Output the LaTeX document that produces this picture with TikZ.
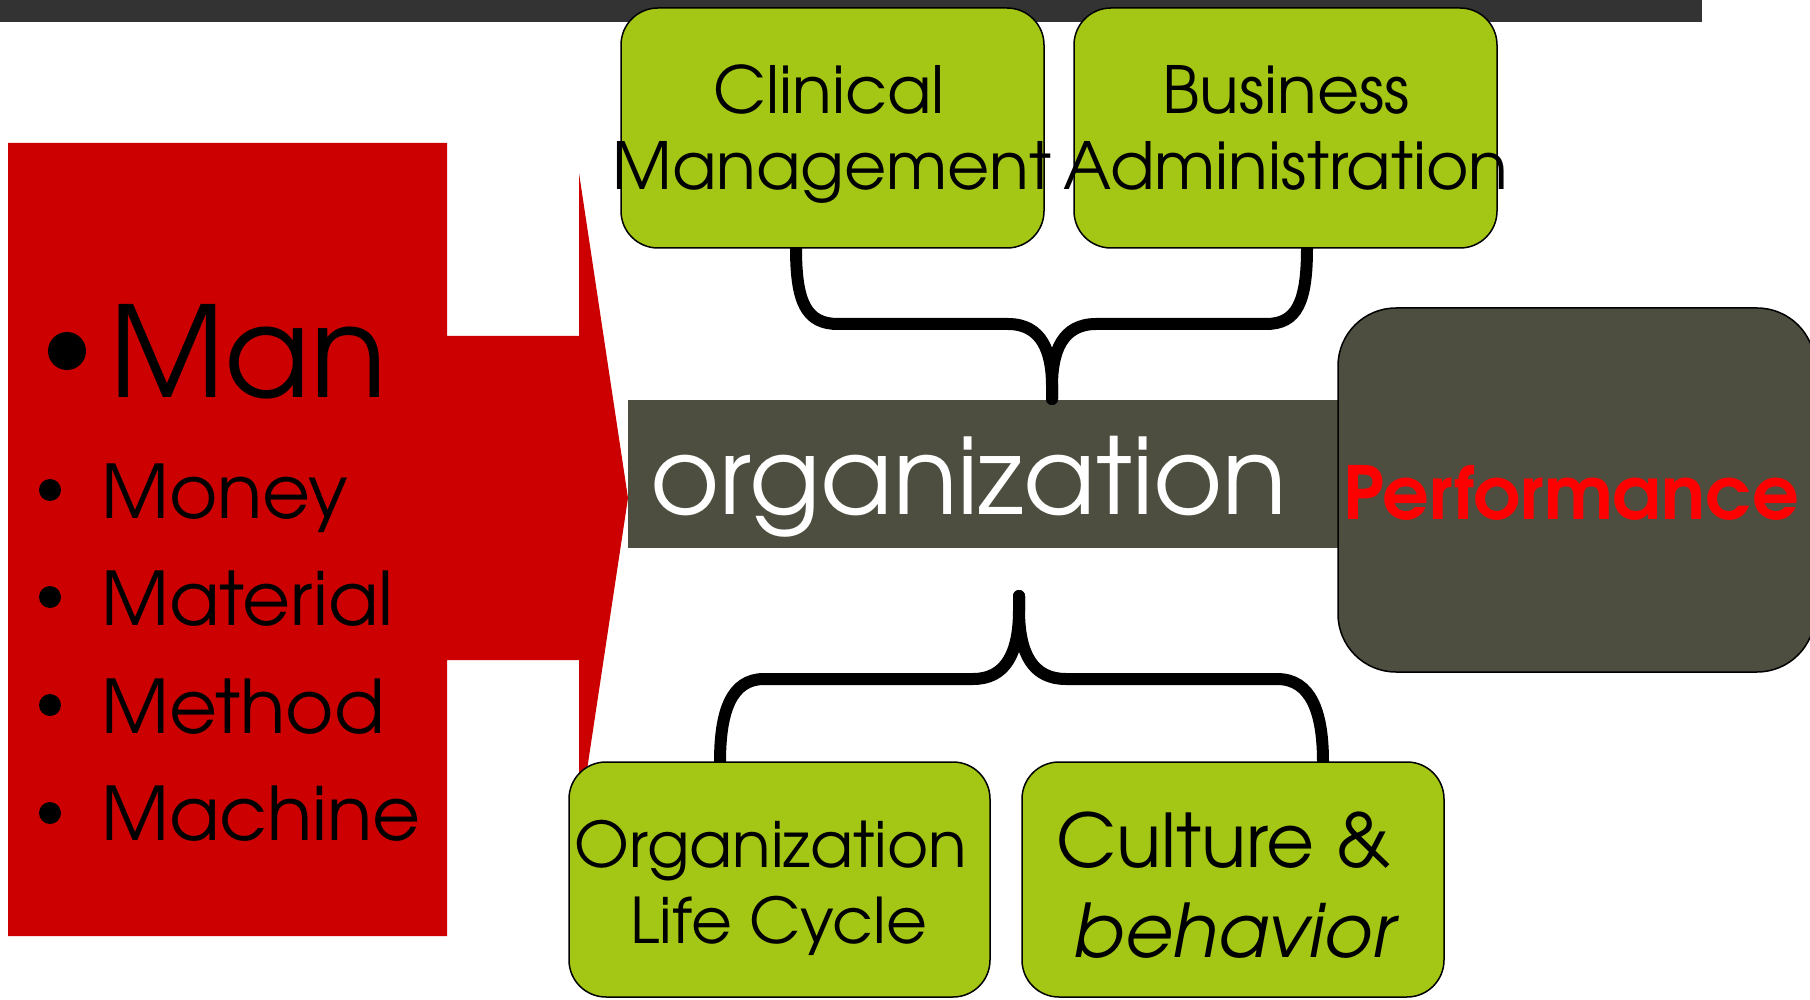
\documentclass[tikz,border=0pt]{standalone}
\usepackage{fontspec}
\setmainfont{TeX Gyre Adventor}
\usetikzlibrary{calc}
\definecolor{topbar}{HTML}{333333}
\definecolor{redblk}{HTML}{CC0000}
\definecolor{lime}{HTML}{A4C716}
\definecolor{olive}{HTML}{4D4E40}
\definecolor{perfred}{HTML}{FF0000}
\begin{document}
\begin{tikzpicture}[x=0.5pt,y=-0.5pt,
  greenbox/.style={draw=black, line width=0.75pt, fill=lime, rounded corners=18.5pt, inner sep=0pt, outer sep=0pt},
  bracepath/.style={draw=black, line width=6pt, line cap=round, line join=round},
  txt/.style={inner sep=0pt, outer sep=0pt, anchor=base},
  itemtxt/.style={inner sep=0pt, outer sep=0pt, anchor=base west},
  dot/.style={circle, fill=black, inner sep=0pt, outer sep=0pt}]
\useasboundingbox (0,0) rectangle (1810,1000);
\clip (0,0) rectangle (1810,1000);
% top dark bar
\fill[topbar] (0,0) rectangle (1702,22);
% red block with arrow
\fill[redblk] (8,143) -- (447,143) -- (447,336) -- (579,336) -- (579,173) -- (628,498)
  -- (579,823) -- (579,660) -- (447,660) -- (447,936) -- (8,936) -- cycle;
% organization bar
\node[fill=olive, inner sep=0pt, outer sep=0pt, minimum width=358.5pt, minimum height=74pt] (org) at (986.5,474) {};
% brace tips
\coordinate (ttip) at (1052,399);
\coordinate (btip) at (1019,596);
% box placeholders (for connector ends)
\node[minimum width=211.5pt, minimum height=120pt, inner sep=0pt, outer sep=0pt] (clin) at (832.5,128) {};
\node[minimum width=211.5pt, minimum height=120pt, inner sep=0pt, outer sep=0pt] (busi) at (1285.5,128) {};
\node[minimum width=210.5pt, minimum height=117.5pt, inner sep=0pt, outer sep=0pt] (olc) at (779.5,879.5) {};
\node[minimum width=211pt, minimum height=117.5pt, inner sep=0pt, outer sep=0pt] (cult) at (1233,879.5) {};
% braces
\draw[bracepath] ($(clin.south west)+(175,0)$) .. controls (796,302) and (806,324) .. (838,324)
  -- (1008,324) .. controls (1042,324) and (1052,352) .. (1052,386) -- (ttip);
\draw[bracepath] ($(busi.south west)+(233,0)$) .. controls (1307,302) and (1297,324) .. (1266,324)
  -- (1096,324) .. controls (1062,324) and (1052,352) .. (1052,386) -- (ttip);
\draw[bracepath] (btip) -- (1019,610) .. controls (1019,654) and (1005,679) .. (973,679)
  -- (764,679) .. controls (731,679) and (720,712) .. ($(olc.north west)+(151,0)$);
\draw[bracepath] (btip) -- (1019,610) .. controls (1019,654) and (1033,679) .. (1066,679)
  -- (1277,679) .. controls (1311,679) and (1323,712) .. ($(cult.north west)+(301,0)$);
% green boxes drawn
\node[greenbox, minimum width=211.5pt, minimum height=120pt] (clinbox) at (clin) {};
\node[greenbox, minimum width=211.5pt, minimum height=120pt] (busibox) at (busi) {};
\node[greenbox, minimum width=210.5pt, minimum height=117.5pt] (olcbox) at (olc) {};
\node[greenbox, minimum width=211pt, minimum height=117.5pt] (cultbox) at (cult) {};
% performance box
\node[draw=black, line width=0.75pt, fill=olive, rounded corners=29pt, inner sep=0pt, outer sep=0pt,
  minimum width=238.5pt, minimum height=182pt] (perf) at (1576.5,490) {};
% texts in red block
\node[dot, minimum size=19pt] (b0) at (67,351) {};
\node[dot, minimum size=11pt] (b1) at (50,490) {};
\node[dot, minimum size=11pt] (b2) at (50,597) {};
\node[dot, minimum size=11pt] (b3) at (50,705) {};
\node[dot, minimum size=11pt] (b4) at (50,813) {};
\node[itemtxt, font=\fontsize{63pt}{70pt}\selectfont] (t0) at (109,397) {Man};
\node[itemtxt, font=\fontsize{37pt}{44pt}\selectfont] (t1) at (101,518) {Money};
\node[itemtxt, font=\fontsize{37pt}{44pt}\selectfont] (t2) at (101,625) {Material};
\node[itemtxt, font=\fontsize{37pt}{44pt}\selectfont] (t3) at (101,733) {Method};
\node[itemtxt, font=\fontsize{37pt}{44pt}\selectfont] (t4) at (101,840) {Machine};
% organization text
\node[itemtxt, text=white, font=\fontsize{53pt}{60pt}\selectfont] (orgt) at (650,514) {organization};
% performance text
\node[txt, text=perfred, font=\fontsize{36.6pt}{42pt}\bfseries\selectfont] (perft) at (1571,519) {Performance};
% green box texts
\node[txt, font=\fontsize{32.5pt}{38pt}\selectfont] (c1) at (829,114) {Clinical};
\node[txt, font=\fontsize{32.5pt}{38pt}\selectfont] (c2) at (832,190) {Management};
\node[txt, font=\fontsize{32.5pt}{38pt}\selectfont] (a1) at (1286,114) {Business};
\node[txt, font=\fontsize{32.5pt}{38pt}\selectfont] (a2) at (1286,190) {Administration};
\node[txt, font=\fontsize{31.5pt}{38pt}\selectfont] (o1) at (771,867) {Organization};
\node[txt, font=\fontsize{31.5pt}{38pt}\selectfont] (o2) at (779,943) {Life Cycle};
\node[txt, font=\fontsize{37pt}{44pt}\selectfont] (u1) at (1224,867) {Culture \&};
\node[txt, font=\fontsize{37pt}{44pt}\itshape\selectfont] (u2) at (1234,957) {behavior};
\end{tikzpicture}
\end{document}
